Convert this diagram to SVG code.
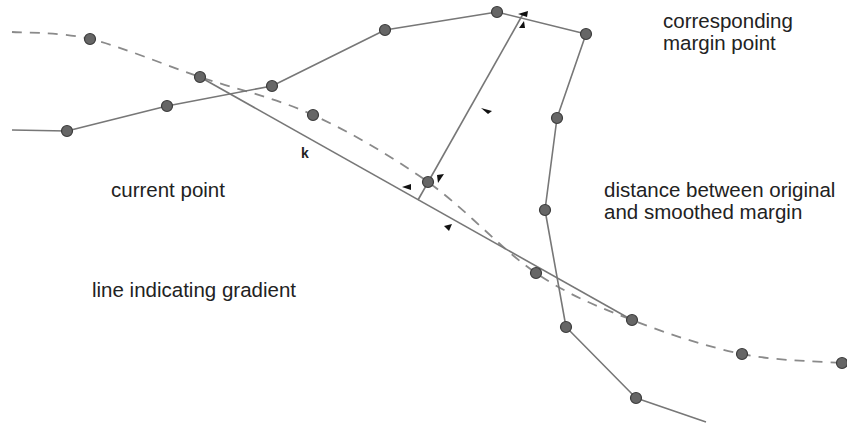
<svg xmlns="http://www.w3.org/2000/svg" width="847" height="428" viewBox="0 0 847 428">
<style>
.ln{fill:none;stroke:#777;stroke-width:1.6;stroke-linejoin:round}
.dash{fill:none;stroke:#8a8a8a;stroke-width:1.8;stroke-dasharray:10 8}
.pt{fill:#666;stroke:#3c3c3c;stroke-width:1.2}
.ah{fill:#111}
.lbl{font-family:"Liberation Sans",Arial,sans-serif;font-size:20.5px;fill:#222}
.k{font-family:"Liberation Sans",Arial,sans-serif;font-size:14px;font-weight:bold;fill:#222}
</style>
<rect width="847" height="428" fill="#fff"/>
<g id="connectors">
<path id="smoothed-margin" class="dash" d="M12,32 C25,33.2 58.7,31.5 90,39 C121.3,46.5 162.8,64.3 200,77 C237.2,89.7 275,97.5 313,115 C351,132.5 390.8,155.7 428,182 C465.2,208.3 502,250 536,273 C570,296 597.7,306.5 632,320 C666.3,333.5 707,346.8 742,354 C777,361.2 825.3,361.5 842,363"/>
<polyline id="original-margin" class="ln" points="12,130 67,131 167,106 272,86 385,30 497,12 586,34 557,118 545,210 566,327 636,398 706,422"/>
<line id="gradient-line" class="ln" x1="200" y1="77" x2="632" y2="320"/>
<line id="distance-line" class="ln" x1="418" y1="200" x2="523" y2="14"/>
<polygon class="ah" points="518,14 528,11 527,17"/>
<polygon class="ah" points="524,21 519,28 525,28"/>
<polygon class="ah" points="481,108 492,111 488,114"/>
<polygon class="ah" points="402,187 411,184 411,190"/>
<polygon class="ah" points="437,175 444,174 438,183"/>
<polygon class="ah" points="444,226 452,224 449,231"/>
</g>
<g id="margin-points">
<circle class="pt" cx="67" cy="131" r="5.5"/>
<circle class="pt" cx="167" cy="106" r="5.5"/>
<circle class="pt" cx="272" cy="86" r="5.5"/>
<circle class="pt" cx="385" cy="30" r="5.5"/>
<circle class="pt" cx="497" cy="12" r="5.5"/>
<circle class="pt" cx="586" cy="34" r="5.5"/>
<circle class="pt" cx="557" cy="118" r="5.5"/>
<circle class="pt" cx="545" cy="210" r="5.5"/>
<circle class="pt" cx="566" cy="327" r="5.5"/>
<circle class="pt" cx="636" cy="398" r="5.5"/>
</g>
<g id="smoothed-points">
<circle class="pt" cx="90" cy="39" r="5.5"/>
<circle class="pt" cx="200" cy="77" r="5.5"/>
<circle class="pt" cx="313" cy="115" r="5.5"/>
<circle class="pt" cx="536" cy="273" r="5.5"/>
<circle class="pt" cx="632" cy="320" r="5.5"/>
<circle class="pt" cx="742" cy="354" r="5.5"/>
<circle class="pt" cx="842" cy="363" r="5.5"/>
</g>
<g id="current-point"><circle class="pt" cx="428" cy="182" r="5.5"/></g>
<g id="label-k"><text class="k" x="301" y="158">k</text></g>
<g id="label-corresponding"><text class="lbl" x="663" y="28">corresponding</text><text class="lbl" x="663" y="50">margin point</text></g>
<g id="label-current"><text class="lbl" x="111" y="197">current point</text></g>
<g id="label-distance"><text class="lbl" x="604" y="197">distance between original</text><text class="lbl" x="604" y="219">and smoothed margin</text></g>
<g id="label-gradient"><text class="lbl" x="92" y="297">line indicating gradient</text></g>
</svg>
